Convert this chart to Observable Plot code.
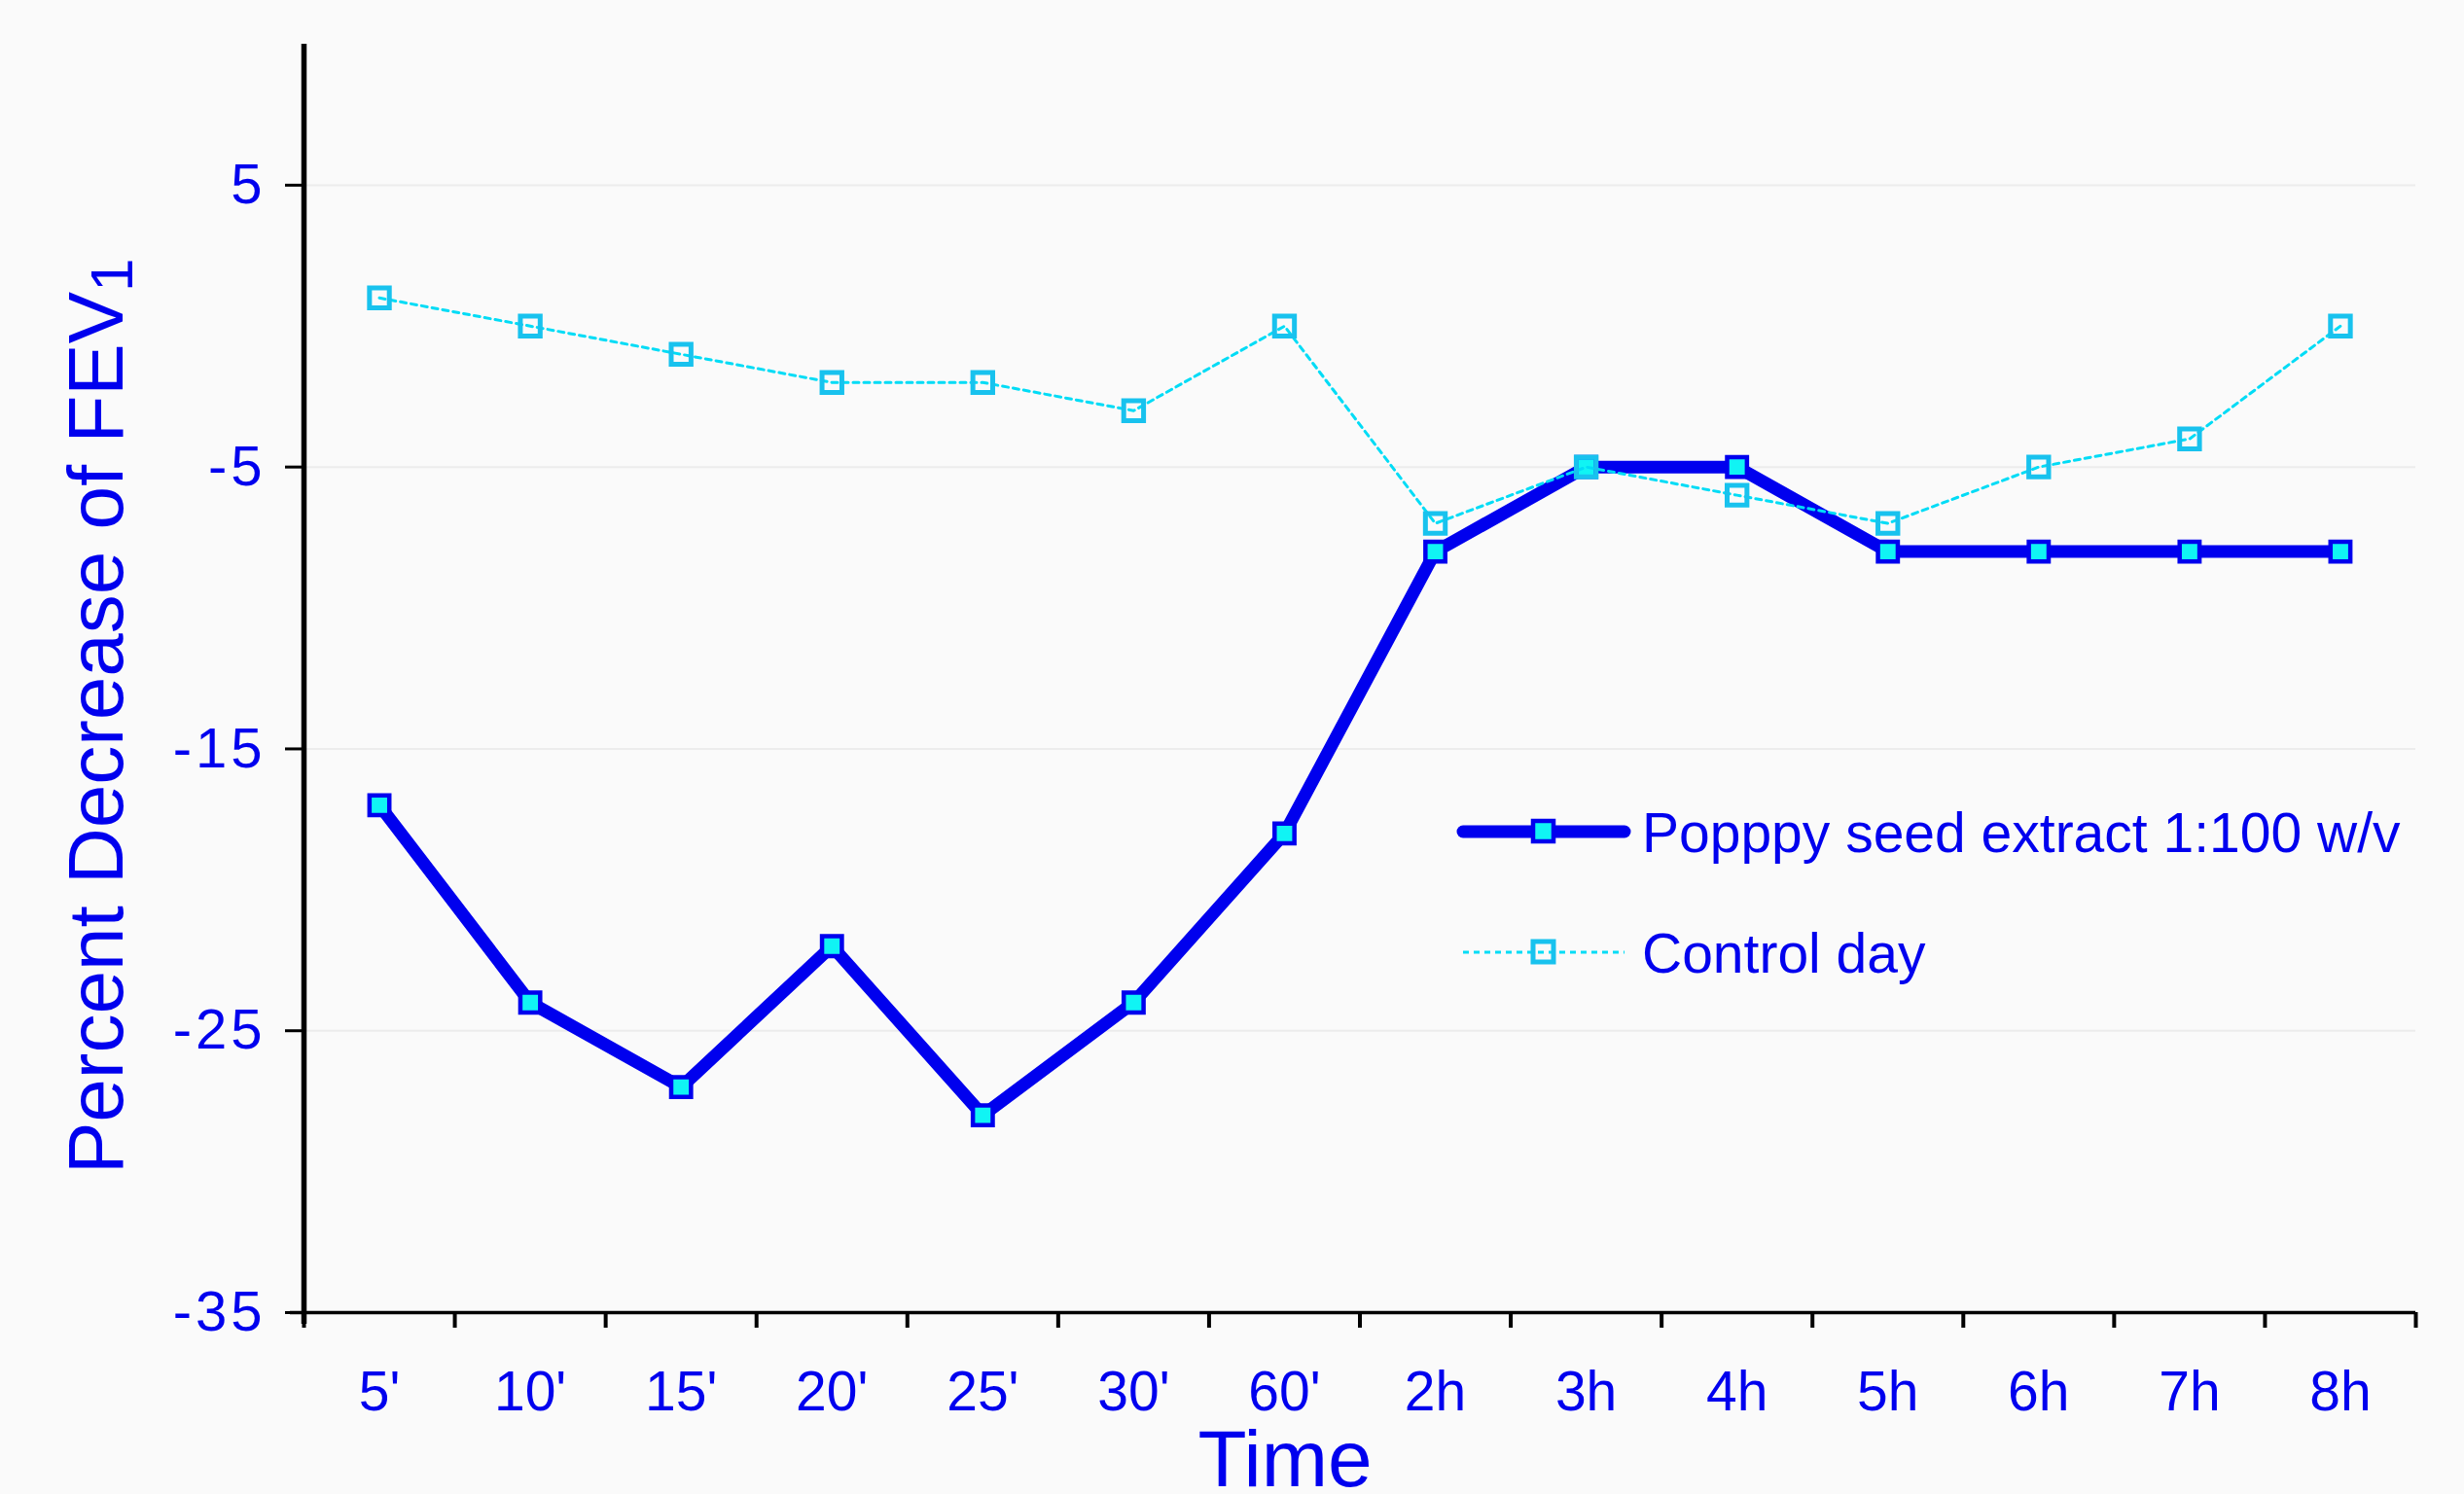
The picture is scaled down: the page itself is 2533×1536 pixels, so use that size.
<!DOCTYPE html>
<html><head><meta charset="utf-8">
<script src="https://cdn.jsdelivr.net/npm/d3@7"></script>
<script src="https://cdn.jsdelivr.net/npm/@observablehq/plot@0.6"></script>
<style>
html,body{margin:0;padding:0;background:#fafafa;}
#chart{position:relative;width:2533px;height:1536px;overflow:hidden;}
#chart svg{display:block;}
g[aria-label="y-axis tick label"] text{letter-spacing:4px;}
</style></head><body><div id="chart"></div>
<script>
const categories = ["5'", "10'", "15'", "20'", "25'", "30'", "60'", "2h", "3h", "4h", "5h", "6h", "7h", "8h"];
const poppyValues = [-17, -24, -27, -22, -28, -24, -18, -8, -5, -5, -8, -8, -8, -8];
const controlValues = [1, 0, -1, -2, -2, -3, 0, -7, -5, -6, -7, -5, -4, 0];
const yTicks = [5, -5, -15, -25, -35];
const gridValues = [5, -5, -15, -25];
const seriesNames = ["Popppy seed extract 1:100 w/v", "Control day"];
const yLabel = "Percent Decrease of FEV";
const yLabelSub = "1";
const xLabel = "Time";
const yDomain = [-35, 10];

const idx = categories.map((_, i) => i);
const poppy = categories.map((c, i) => ({i, c, v: poppyValues[i]}));
const control = categories.map((c, i) => ({i, c, v: controlValues[i]}));
const boundaries = d3.range(categories.length + 1).map(i => i - 0.5);

const W = 2533, H = 1536;
const blue = "#0000ee", cyanFill = "#10f4f4", ctrlStroke = "#18c2ee", ctrlLine = "#00dcf6";
const font = "'Liberation Sans', Arial, sans-serif";

const plot = Plot.plot({
  width: W, height: H,
  marginLeft: 312, marginRight: 50, marginTop: 45, marginBottom: 187,
  style: {background: "transparent", fontFamily: font, color: blue},
  x: {type: "linear", domain: [-0.5, categories.length - 0.5]},
  y: {domain: yDomain},
  marks: [
    Plot.gridY(gridValues, {stroke: "#ececec", strokeOpacity: 1, strokeWidth: 2}),
    Plot.axisY(yTicks, {tickSize: 19, tickPadding: 20, fontSize: 58, stroke: "black", strokeWidth: 3, fill: blue, label: null, tickFormat: d => String(d)}),
    Plot.axisX(boundaries, {tickSize: 16, tickFormat: () => "", stroke: "black", strokeWidth: 4, label: null}),
    Plot.axisX(idx, {tickSize: 0, tickPadding: 60, tickFormat: i => categories[i], fontSize: 57, fill: blue, label: null}),
    Plot.ruleY([yDomain[0]], {stroke: "black", strokeWidth: 3.5, insetLeft: -14}),
    Plot.ruleX([-0.5], {stroke: "black", strokeWidth: 5.5, insetBottom: -12}),
    Plot.line(poppy, {x: "i", y: "v", stroke: blue, strokeWidth: 13}),
    Plot.dot(poppy, {x: "i", y: "v", symbol: "square", r: 11.5, fill: cyanFill, stroke: blue, strokeWidth: 4.5}),
    Plot.line(control, {x: "i", y: "v", stroke: ctrlLine, strokeWidth: 3, strokeDasharray: "6,5"}),
    Plot.dot(control, {x: "i", y: "v", symbol: "square", r: 11.5, fill: "none", stroke: ctrlStroke, strokeWidth: 5})
  ]
});
document.getElementById("chart").appendChild(plot);

const svg = d3.select(plot);
// y-axis title with subscript
const yt = svg.append("text")
  .attr("transform", "translate(126,1207) rotate(-90)")
  .attr("text-anchor", "start")
  .attr("font-family", font).attr("font-size", 80).attr("fill", blue);
yt.append("tspan").text(yLabel);
yt.append("tspan").attr("dy", 10).attr("font-size", 62).text(yLabelSub);

// x-axis title
svg.append("text")
  .attr("x", 1321).attr("y", 1528)
  .attr("text-anchor", "middle")
  .attr("font-family", font).attr("font-size", 82).attr("fill", blue)
  .text(xLabel);

// legend
const lg = svg.append("g").attr("font-family", font).attr("font-size", 57).attr("fill", blue).attr("text-anchor", "start");
const rows = [
  {y: 855, name: seriesNames[0], kind: "poppy"},
  {y: 979, name: seriesNames[1], kind: "control"}
];
rows.forEach(r => {
  if (r.kind === "poppy") {
    lg.append("line").attr("x1", 1504).attr("x2", 1670).attr("y1", r.y).attr("y2", r.y)
      .attr("stroke", blue).attr("stroke-width", 13).attr("stroke-linecap", "round");
    lg.append("rect").attr("x", 1576).attr("y", r.y - 11).attr("width", 21).attr("height", 21)
      .attr("fill", cyanFill).attr("stroke", blue).attr("stroke-width", 4.5);
  } else {
    lg.append("line").attr("x1", 1504).attr("x2", 1670).attr("y1", r.y).attr("y2", r.y)
      .attr("stroke", ctrlLine).attr("stroke-width", 3).attr("stroke-dasharray", "6,5");
    lg.append("rect").attr("x", 1576).attr("y", r.y - 11).attr("width", 21).attr("height", 21)
      .attr("fill", "none").attr("stroke", ctrlStroke).attr("stroke-width", 5);
  }
  lg.append("text").attr("x", 1688).attr("y", r.y).attr("dy", "0.36em").attr("text-anchor", "start").text(r.name);
});
</script></body></html>
